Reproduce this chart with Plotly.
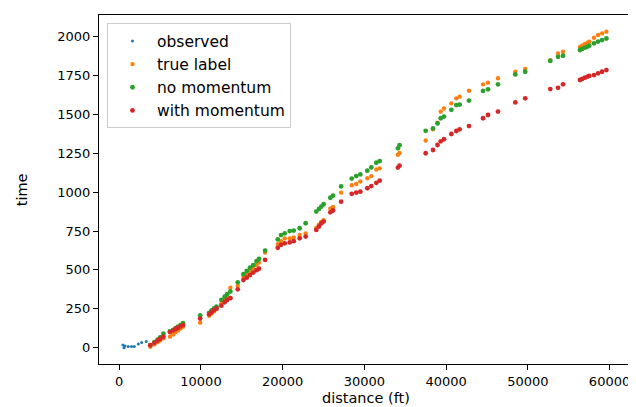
import plotly.graph_objects as go

# observed points
obs_dist = [450, 580, 700, 1100, 1500, 1840, 2330, 2740, 3300]
obs_time = [17, 0, 11, 7, 7, 7, 24, 33, 40]

# prediction distances (shared by the three other series)
pred_dist = [3800, 4300, 4700, 5000, 5400,
             6200, 6600, 6900, 7200, 7500, 7800,
             9900,
             11000, 11300, 11600, 11900,
             12500, 12900, 13200, 13600,
             14500,
             15200, 15600, 16000, 16400,
             16800, 17100,
             17850,
             19400, 19800, 20250,
             20860, 21350,
             22080, 22810,
             24110, 24440, 24730, 25010,
             25830, 26160,
             27150,
             28450, 29000, 29500,
             30360, 30850,
             31460, 31870,
             34100, 34300,
             37500, 38400, 38950,
             39340, 39740,
             40640,
             41250, 41660,
             42800,
             44520, 45130,
             46350, 48470, 49680,
             52750, 53700, 54310,
             56380, 56660, 56990, 57310, 57520,
             58100, 58600, 59090, 59620]

true_time = [6, 21, 36, 46, 61,
             71, 85, 100, 110, 123, 135,
             161,
             205, 220, 234, 249,
             284, 309, 324, 386,
             398,
             455, 471, 491, 508,
             532, 547,
             612,
             666, 685, 703,
             703, 709,
             724, 735,
             771, 791, 808, 820,
             895, 905,
             997,
             1044, 1052, 1068,
             1089, 1103,
             1146, 1153,
             1240, 1252,
             1332, 1404, 1446,
             1518, 1538,
             1571,
             1603, 1614,
             1652,
             1693, 1704,
             1732, 1774, 1792,
             1849, 1892, 1903,
             1933, 1943, 1953, 1961, 1968,
             1993, 2010, 2021, 2032]

nomom_time = [16, 36, 51, 66, 90,
              105, 115, 125, 135, 145, 157,
              208,
              224, 239, 252, 264,
              307, 328, 344, 361,
              420,
              472, 493, 514, 531,
              557, 570,
              624,
              696, 724, 735,
              750, 753,
              768, 800,
              875, 892, 907, 922,
              964, 977,
              1037,
              1087, 1103, 1114,
              1138, 1159,
              1189, 1200,
              1282, 1302,
              1394, 1410, 1442,
              1475, 1486,
              1529,
              1560, 1563,
              1589,
              1651, 1661,
              1693, 1757, 1774,
              1844, 1870, 1877,
              1914, 1921, 1929, 1936, 1942,
              1957, 1968, 1978, 1988]

mom_time = [16, 31, 46, 56, 71,
            100, 110, 120, 128, 137, 145,
            187,
            215, 229, 242, 252,
            270, 292, 307, 318,
            375,
            435, 450, 467, 483,
            498, 508,
            564,
            642, 661, 671,
            677, 685,
            703, 714,
            757, 779, 800, 811,
            870, 882,
            939,
            989, 997, 1003,
            1025, 1039,
            1060, 1074,
            1158, 1170,
            1250, 1271, 1303,
            1327, 1340,
            1374,
            1393, 1404,
            1425,
            1475, 1496,
            1518, 1577, 1603,
            1663, 1671, 1693,
            1721, 1728, 1736, 1743, 1747,
            1753, 1764, 1774, 1785]

x_ticks = [0, 10000, 20000, 30000, 40000, 50000, 60000]
y_ticks = [0, 250, 500, 750, 1000, 1250, 1500, 1750, 2000]
series_names = ["observed", "true label", "no momentum", "with momentum"]
colors = ["#1f77b4", "#ff7f0e", "#2ca02c", "#d62728"]

fig = go.Figure()
fig.add_trace(go.Scatter(x=obs_dist, y=obs_time, mode="markers", name=series_names[0],
                         marker=dict(color=colors[0], size=3, line=dict(width=0))))
fig.add_trace(go.Scatter(x=pred_dist, y=true_time, mode="markers", name=series_names[1],
                         marker=dict(color=colors[1], size=4.4, line=dict(width=0))))
fig.add_trace(go.Scatter(x=pred_dist, y=nomom_time, mode="markers", name=series_names[2],
                         marker=dict(color=colors[2], size=4.8, line=dict(width=0))))
fig.add_trace(go.Scatter(x=pred_dist, y=mom_time, mode="markers", name=series_names[3],
                         marker=dict(color=colors[3], size=4.8, line=dict(width=0))))

font_family = "DejaVu Sans"
axis_common = dict(showline=True, linecolor="black", linewidth=1, mirror=True,
                   ticks="outside", ticklen=5, tickwidth=1, tickcolor="black",
                   showgrid=False, zeroline=False, automargin=False,
                   tickfont=dict(family=font_family, size=13, color="black"))

fig.update_layout(
    width=636, height=407,
    margin=dict(l=91, r=12, t=7, b=51),
    paper_bgcolor="white", plot_bgcolor="white",
    font=dict(family=font_family, size=14, color="black"),
    xaxis=dict(range=[-2480, 62750], tickvals=x_ticks,
               ticktext=[str(v) for v in x_ticks], **axis_common),
    yaxis=dict(range=[-105, 2139], tickvals=y_ticks,
               ticktext=[str(v) for v in y_ticks], **axis_common),
    legend=dict(x=0.015, y=0.976, xanchor="left", yanchor="top",
                bgcolor="rgba(255,255,255,0.8)", bordercolor="#cccccc", borderwidth=1,
                font=dict(family=font_family, size=15.5, color="black"),
                tracegroupgap=0, itemwidth=39),
    annotations=[
        dict(text="distance (ft)", xref="paper", yref="paper", x=0.5, y=-0.096,
             xanchor="center", yanchor="middle", showarrow=False,
             font=dict(family=font_family, size=14.5, color="black")),
        dict(text="time", xref="paper", yref="paper", x=-0.145, y=0.5,
             xanchor="center", yanchor="middle", showarrow=False, textangle=-90,
             font=dict(family=font_family, size=14.5, color="black")),
    ],
    showlegend=True,
)

fig.write_html("out.html")
